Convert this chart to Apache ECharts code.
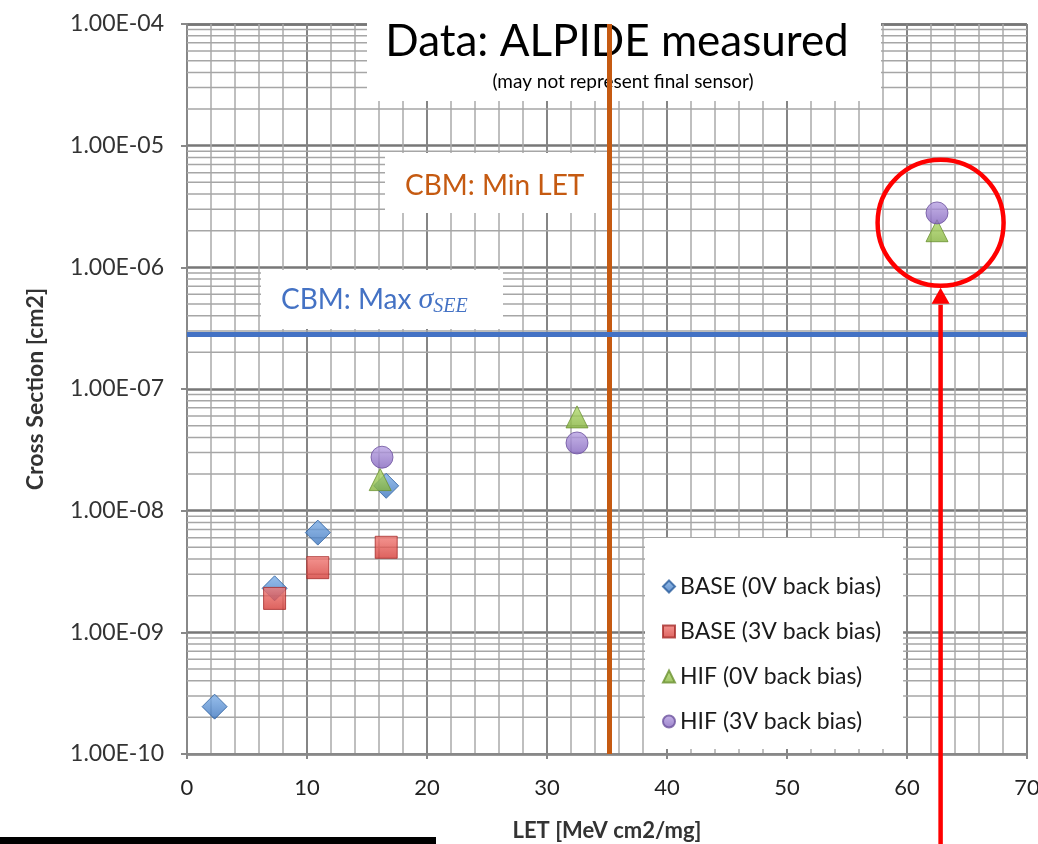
<!DOCTYPE html>
<html>
<head>
<meta charset="utf-8">
<script src="https://cdn.jsdelivr.net/npm/echarts@6/dist/echarts.min.js"></script>
<style>
  html, body { margin: 0; padding: 0; background: #fff; }
  #chart { width: 1038px; height: 844px; }
</style>
</head>
<body>
<div id="chart"></div>
<script>
// ============ SEE cross section vs LET ============
// [LET MeV cm2/mg, cross section cm2]
const base0V = [[2.3, 2.45e-10], [7.3, 2.3e-9], [10.9, 6.6e-9], [16.6, 1.6e-8]];
const base3V = [[7.3, 1.9e-9], [10.9, 3.4e-9], [16.6, 5.0e-9]];
const hif0V = [[16.1, 1.8e-8], [32.5, 5.9e-8], [62.5, 2.0e-6]];
const hif3V = [[16.25, 2.75e-8], [32.5, 3.6e-8], [62.5, 2.8e-6]];

const seriesNames = ['BASE (0V back bias)', 'BASE (3V back bias)', 'HIF (0V back bias)', 'HIF (3V back bias)'];
const xTicks = [0, 10, 20, 30, 40, 50, 60, 70];
const yDecades = [-10, -9, -8, -7, -6, -5, -4];

const maxSigmaSEE = 2.8e-7;   // CBM: Max sigma_SEE
const minLET = 35.2;          // CBM: Min LET
const highlight = [62.8, 2.32e-6];

const FONT = 'Lato';
const xMin = xTicks[0], xMax = xTicks[xTicks.length - 1];

function fmtExp(v) {
  const e = Math.round(Math.log10(v));
  return '1.00E' + (e < 0 ? '-' : '+') + String(Math.abs(e)).padStart(2, '0');
}

// log minor grid lines at 2..9 x 10^k
const minorLines = [];
for (let i = 0; i < yDecades.length - 1; i++) {
  for (let m = 2; m <= 9; m++) minorLines.push([xMin, m * Math.pow(10, yDecades[i])]);
}

function grad(light, dark) {
  return new echarts.graphic.LinearGradient(0, 0, 0, 1, [
    { offset: 0, color: light }, { offset: 1, color: dark },
  ]);
}

const chart = echarts.init(document.getElementById('chart'));

chart.setOption({
  backgroundColor: '#fff',
  animation: false,
  textStyle: { fontFamily: FONT },
  grid: { left: 187, right: 11, top: 24, bottom: 90, containLabel: false, outerBoundsMode: 'none' },
  legend: {
    data: seriesNames,
    orient: 'vertical',
    left: 645, top: 538,
    backgroundColor: '#fff',
    padding: [37, 22, 16, 17],
    itemGap: 22,
    itemWidth: 12, itemHeight: 12,
    textStyle: { fontSize: 23, color: '#1a1a1a', fontFamily: FONT, lineHeight: 22 },
    z: 6,
  },
  xAxis: {
    type: 'value',
    min: xMin, max: xMax, interval: 10,
    name: 'LET [MeV cm2/mg]',
    nameLocation: 'middle', nameGap: 66,
    nameTextStyle: { fontSize: 22, fontWeight: 'bold', color: '#333', fontFamily: FONT },
    axisLine: { show: true, lineStyle: { color: '#888', width: 2 } },
    axisTick: { show: true, length: 5, lineStyle: { color: '#888', width: 2 } },
    axisLabel: { fontSize: 22, color: '#222', margin: 23 },
    splitLine: { show: true, lineStyle: { color: '#858585', width: 2 } },
    minorTick: { show: false, splitNumber: 5 },
    minorSplitLine: { show: true, lineStyle: { color: '#ababab', width: 1.5 } },
  },
  yAxis: {
    type: 'log', logBase: 10,
    min: Math.pow(10, yDecades[0]), max: Math.pow(10, yDecades[yDecades.length - 1]),
    splitNumber: 6,
    name: 'Cross Section [cm2]',
    nameLocation: 'middle', nameGap: 140, nameRotate: 90,
    nameTextStyle: { fontSize: 23, fontWeight: 'bold', color: '#333', fontFamily: FONT },
    axisLine: { show: true, lineStyle: { color: '#888', width: 2 } },
    axisTick: { show: true, length: 6, lineStyle: { color: '#888', width: 2 } },
    axisLabel: { fontSize: 23, color: '#333', margin: 23, formatter: fmtExp },
    splitLine: { show: true, lineStyle: { color: '#777', width: 2.5 } },
  },
  series: [
    {
      // minor log grid lines
      type: 'custom', silent: true, z: 1,
      data: minorLines,
      renderItem: (params, api) => {
        const a = api.coord([xMin, api.value(1)]);
        const b = api.coord([xMax, api.value(1)]);
        return {
          type: 'line',
          shape: { x1: a[0], y1: a[1], x2: b[0], y2: b[1] },
          style: { stroke: '#a6a6a6', lineWidth: 1.5 },
        };
      },
    },
    {
      // CBM: Max sigma_SEE
      type: 'line', silent: true, z: 8, symbol: 'none',
      data: [[xMin, maxSigmaSEE], [xMax, maxSigmaSEE]],
      lineStyle: { color: '#4472c4', width: 5 },
    },
    {
      name: seriesNames[0], type: 'scatter', data: base0V, symbol: 'diamond', symbolSize: 25, z: 3,
      itemStyle: { color: grad('#7fb0e8', '#3a73bd'), borderColor: '#2b5e9e', borderWidth: 1 },
    },
    {
      name: seriesNames[1], type: 'scatter', data: base3V, symbol: 'rect', symbolSize: 22, z: 3,
      itemStyle: { color: grad('#f27b76', '#d43a35'), borderColor: '#a52a28', borderWidth: 1 },
    },
    {
      name: seriesNames[2], type: 'scatter', data: hif0V, symbol: 'triangle', symbolSize: 22, z: 3,
      itemStyle: { color: grad('#b4dc70', '#84b23c'), borderColor: '#6a9130', borderWidth: 1 },
    },
    {
      name: seriesNames[3], type: 'scatter', data: hif3V, symbol: 'circle', symbolSize: 22, z: 3,
      itemStyle: { color: grad('#b9a3e3', '#8263bd'), borderColor: '#6d529e', borderWidth: 1 },
      markLine: {
        silent: true, symbol: 'none', z: 8, animation: false,
        label: { show: false },
        data: [
          { xAxis: minLET, lineStyle: { color: '#c55a11', width: 5, type: 'solid' } },
        ],
      },
    },
  ],
});

// annotation boxes + red highlight
const c = chart.convertToPixel({ gridIndex: 0 }, highlight);
const BLUE = '#4472c4';
chart.setOption({
  graphic: [
    { type: 'rect', z: 5, shape: { x: 367, y: 17, width: 514, height: 84 }, style: { fill: '#fff' } },
    { type: 'text', z: 6, x: 617, y: 42, style: { text: 'Data: ALPIDE measured', fontSize: 44, fontFamily: FONT, fill: '#000', align: 'center', verticalAlign: 'middle' } },
    { type: 'text', z: 6, x: 623, y: 82, style: { text: '(may not represent final sensor)', fontSize: 19, fontFamily: FONT, fill: '#000', align: 'center', verticalAlign: 'middle' } },
    { type: 'rect', z: 5, shape: { x: 385, y: 153, width: 223, height: 60 }, style: { fill: '#fff' } },
    { type: 'text', z: 6, x: 405, y: 186, style: { text: 'CBM: Min LET', fontSize: 28, fontFamily: FONT, fill: '#c55a11', align: 'left', verticalAlign: 'middle' } },
    { type: 'rect', z: 5, shape: { x: 261, y: 270, width: 242, height: 59 }, style: { fill: '#fff' } },
    {
      type: 'text', z: 6, x: 281, y: 300,
      style: {
        text: '{a|CBM: Max }{s|σ}{sub|SEE}',
        fill: BLUE,
        align: 'left', verticalAlign: 'middle',
        rich: {
          a: { fontSize: 28, fontFamily: FONT, fill: BLUE },
          s: { fontSize: 30, fontFamily: 'Liberation Serif', fontStyle: 'italic', fill: BLUE },
          sub: { fontSize: 20, fontFamily: 'Liberation Serif', fontStyle: 'italic', fill: BLUE, padding: [14, 0, 0, 0] },
        },
      },
    },
    { type: 'circle', z: 10, shape: { cx: c[0], cy: c[1], r: 63 }, style: { fill: 'none', stroke: '#ff0000', lineWidth: 4.5 } },
    { type: 'line', z: 10, shape: { x1: c[0], y1: 844, x2: c[0], y2: c[1] + 82 }, style: { stroke: '#ff0000', lineWidth: 4.5 } },
    { type: 'polygon', z: 10, shape: { points: [[c[0], c[1] + 65], [c[0] - 9, c[1] + 81], [c[0] + 9, c[1] + 81]] }, style: { fill: '#ff0000' } },
    { type: 'rect', z: 10, shape: { x: 0, y: 837, width: 436, height: 7 }, style: { fill: '#000' } },
  ],
});
</script>
</body>
</html>
